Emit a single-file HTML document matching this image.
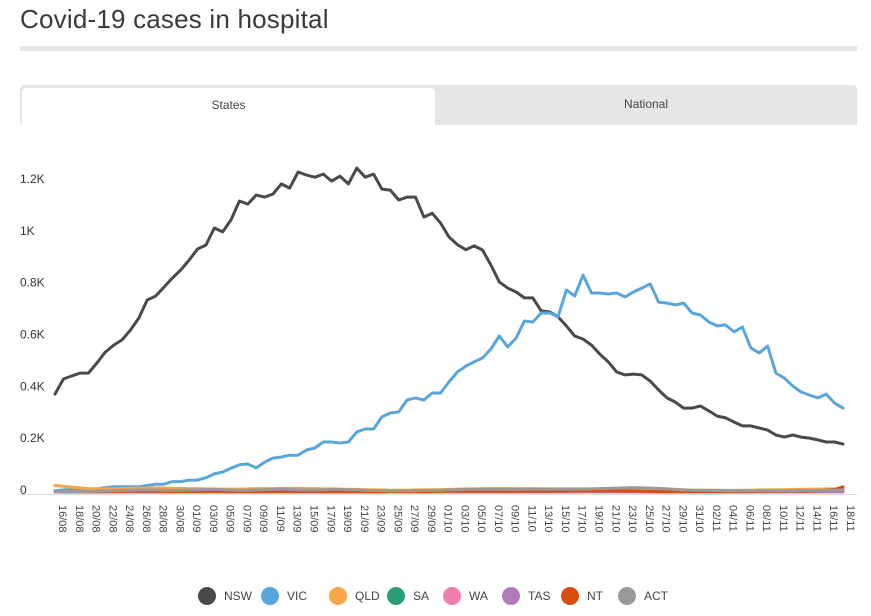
<!DOCTYPE html>
<html><head><meta charset="utf-8">
<style>
body{margin:0;background:#fff;width:871px;height:616px;overflow:hidden;font-family:"Liberation Sans",sans-serif;}
#title{position:absolute;left:20px;top:4px;font-size:26px;color:#3a3a3a;letter-spacing:0.2px}
#rule{position:absolute;left:20px;top:46px;width:837px;height:5px;background:#e6e6e6}
#tabs{position:absolute;left:20px;top:85px;width:837px;height:40px;background:#e6e6e6;border-radius:4px 4px 0 0}
.tab{position:absolute;top:0;height:40px;line-height:38px;text-align:center;font-size:12px;color:#444}
#t1{left:2px;top:3px;width:413px;height:37px;background:#fff;border-radius:4px 4px 0 0;line-height:34px}
#t2{left:415px;width:422px}
svg{position:absolute;left:0;top:0}
</style></head><body>
<div id="title">Covid-19 cases in hospital</div>
<div id="rule"></div>
<div id="tabs">
<div class="tab" id="t1">States</div>
<div class="tab" id="t2">National</div>
</div>
<svg id="chart" width="871" height="616"></svg>
<script>
const nsw=[378,436,448,459,459,498,540,567,587,625,671,741,756,791,826,857,895,938,953,1019,1004,1050,1123,1111,1146,1138,1150,1189,1173,1235,1223,1215,1227,1200,1219,1189,1250,1215,1227,1169,1165,1127,1138,1138,1061,1076,1038,984,955,935,950,934,876,811,787,772,749,749,699,695,676,641,602,590,567,532,502,463,452,455,452,428,394,363,347,324,324,332,313,293,286,270,255,255,247,239,220,212,220,212,208,201,193,193,185];
const vic=[5,8,10,8,8,12,17,20,20,20,20,25,30,30,40,40,46,46,55,70,77,92,105,108,93,115,131,135,142,142,162,170,193,193,189,193,232,243,243,290,305,309,355,363,355,382,382,425,463,486,502,517,552,602,560,594,660,656,691,691,676,780,756,837,768,768,764,768,753,772,787,803,733,729,722,729,691,683,656,641,645,618,637,556,537,563,459,440,409,386,374,363,378,343,324];
const qld=[25,22,19,16,13,12,12,12,13,14,15,15,16,15,14,14,13,13,12,12,11,11,11,12,13,13,13,14,14,14,13,13,12,12,11,10,10,9,8,8,7,7,7,8,8,9,9,10,11,12,12,13,14,14,14,13,13,13,12,12,12,12,12,12,12,12,12,12,11,11,10,10,9,9,8,8,7,7,7,7,6,6,7,7,8,8,9,9,10,10,11,11,12,12,13];
const sa=[1,1,1,1,1,1,1,1,1,1,1,1,1,1,1,1,1,1,1,1,1,1,1,1,1,1,1,1,1,1,1,1,1,1,1,1,1,1,1,1,1,1,1,1,1,1,1,1,1,1,1,1,1,1,1,1,1,1,1,1,1,1,1,1,1,1,1,1,1,1,1,1,1,1,1,1,1,1,1,1,1,1,1,1,1,1,1,1,1,1,1,1,1,1,1];
const wa=[0,0,0,0,0,0,0,0,0,0,0,0,0,0,0,0,0,0,0,0,0,0,0,0,0,0,0,0,0,0,0,0,0,0,0,0,0,0,0,0,0,0,0,0,0,0,0,0,0,0,0,0,0,0,0,0,0,0,0,0,0,0,0,0,0,0,0,0,0,0,0,0,0,0,0,0,0,0,0,0,0,0,0,0,0,0,0,0,0,0,0,0,0,0,0];
const tas=[0,0,0,0,0,0,0,0,0,0,0,0,0,0,0,0,0,0,0,0,0,0,0,0,0,0,0,0,0,0,0,0,0,0,0,0,0,0,0,0,0,0,0,0,0,0,0,0,0,1,1,1,1,1,1,1,2,2,2,2,2,2,2,2,2,2,2,2,2,2,2,2,2,2,2,2,2,2,2,2,2,2,2,2,2,2,2,2,2,2,2,2,2,2,2];
const nt=[2,2,1,1,1,1,1,2,3,3,3,3,3,3,2,2,2,2,2,2,2,1,1,1,1,1,2,2,2,2,2,2,1,1,1,1,1,1,1,1,2,2,2,2,2,2,3,3,3,3,3,3,3,3,3,3,3,3,3,3,4,4,5,5,5,5,5,5,4,4,3,2,1,1,1,1,1,1,1,1,1,1,1,2,2,2,2,3,3,3,4,5,7,10,20];
const act=[2,2,2,2,2,3,4,5,6,7,8,8,8,7,7,7,8,9,10,10,9,8,7,7,8,9,10,11,10,9,8,8,9,10,10,9,8,7,6,5,5,5,5,5,6,6,7,8,9,10,10,10,10,10,10,10,10,11,11,11,11,11,11,11,12,13,14,15,16,17,16,15,14,12,10,8,7,7,6,6,5,5,5,5,5,5,5,5,5,6,6,6,7,7,8];
const seriesNames=["NSW","VIC","QLD","SA","WA","TAS","NT","ACT"];
const seriesData=[nsw,vic,qld,sa,wa,tas,nt,act];
const colors=["#4a4a4a","#5aa5dc","#f9a54a","#2a9d78","#f07fae","#b07bb8","#d94d0e","#9a9a9a"];
const yTicks=[0,200,400,600,800,1000,1200];
const yTickLabels=["0","0.2K","0.4K","0.6K","0.8K","1K","1.2K"];
const startDate=new Date(2021,7,16);
const nDays=95;

const NS="http://www.w3.org/2000/svg";
const svg=document.getElementById('chart');
const x0=55,x1=843,yBase=492,yScale=0.2591;
function xs(i){return x0+(x1-x0)*i/(nDays-1);}
function ys(v){return yBase-v*yScale;}
function mk(tag,attrs,parent){const e=document.createElementNS(NS,tag);for(const k in attrs)e.setAttribute(k,attrs[k]);(parent||svg).appendChild(e);return e;}

const base=mk('line',{x1:20,x2:857,y1:494.5,y2:494.5,stroke:'#dddddd','stroke-width':1});



yTicks.forEach((v,i)=>{
  const t=mk('text',{x:20,y:ys(v)+2,'font-size':12,fill:'#333','font-family':'Liberation Sans, sans-serif'});
  t.textContent=yTickLabels[i];
  
  
});

for(let i=0;i<nDays;i+=2){
  const d=new Date(startDate.getTime()+i*86400000);
  const lab=String(d.getDate()).padStart(2,'0')+'/'+String(d.getMonth()+1).padStart(2,'0');
  const x=xs(i)+4;
  const t=mk('text',{x:x,y:505,'font-size':11,fill:'#444','font-family':'Liberation Sans, sans-serif',transform:'rotate(90 '+x+' 505)'});
  t.textContent=lab;
  
  
}

const order=[0,1,2,3,4,5,6,7];
order.forEach(s=>{
  const arr=seriesData[s];
  let d='';
  arr.forEach((v,i)=>{d+=(i?'L':'M')+xs(i).toFixed(1)+' '+ys(v).toFixed(1);});
  const p=mk('path',{d:d,fill:'none',stroke:colors[s],'stroke-width':3,'stroke-linejoin':'round','stroke-linecap':'round'});
  
  
});

const legX=[207,270,338,396,452,511,570,627];
seriesNames.forEach((n,i)=>{
  const g=mk('g',{});
  
  
  mk('circle',{cx:legX[i],cy:596,r:9,fill:colors[i]},g);
  const t=mk('text',{x:legX[i]+17,y:600,'font-size':12,fill:'#444','font-family':'Liberation Sans, sans-serif'},g);
  t.textContent=n;
});
</script>
</body></html>
